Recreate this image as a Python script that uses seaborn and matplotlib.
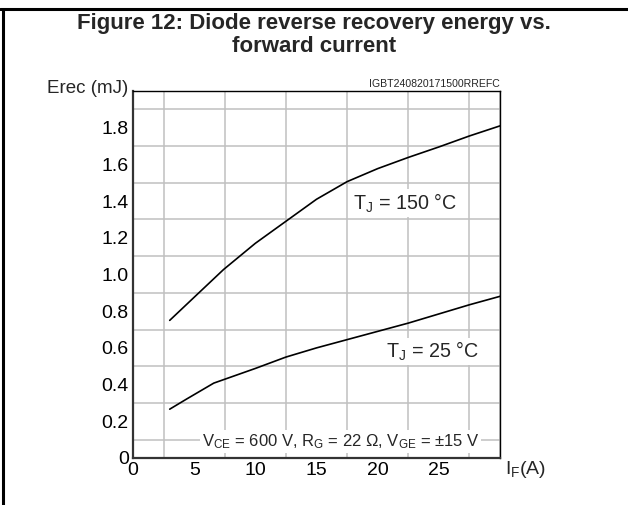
import matplotlib

matplotlib.use("Agg", force=True)
import matplotlib.pyplot as plt
import numpy as np
import pandas as pd
import seaborn as sns
from matplotlib.lines import Line2D

# forward current (A) and recovery energy (mJ)
I_F_150 = [3, 5, 7.4, 10, 12.5, 15, 17.5, 20, 22.5, 25, 27.5, 30]
E_150 = [0.75, 0.876, 1.027, 1.17, 1.29, 1.41, 1.506, 1.577, 1.638, 1.695, 1.755, 1.81]
I_F_25 = [3, 4.4, 6.6, 10, 12.5, 15, 17.5, 20, 22.5, 25, 27.5, 30]
E_25 = [0.266, 0.322, 0.408, 0.488, 0.55, 0.60, 0.645, 0.69, 0.735, 0.785, 0.835, 0.881]

X_TICKS = [0, 5, 10, 15, 20, 25]
Y_TICKS = [0, 0.2, 0.4, 0.6, 0.8, 1.0, 1.2, 1.4, 1.6, 1.8]
Y_TICK_LABELS = ["0", "0.2", "0.4", "0.6", "0.8", "1.0", "1.2", "1.4", "1.6", "1.8"]

TITLE_LINES = ["Figure 12: Diode reverse recovery energy vs.", "forward current"]
CODE = "IGBT240820171500RREFC"


def set_style() -> None:
    sns.set_theme(style="white")
    plt.rcParams["font.family"] = ["Liberation Sans", "DejaVu Sans"]
    plt.rcParams["mathtext.fontset"] = "custom"
    plt.rcParams["mathtext.rm"] = "Liberation Sans"
    plt.rcParams["mathtext.it"] = "Liberation Sans:italic"
    plt.rcParams["axes.unicode_minus"] = False


def main() -> None:
    set_style()
    data = pd.concat(
        [
            pd.DataFrame({"I_F": I_F_150, "Erec": E_150, "Tj": "150"}),
            pd.DataFrame({"I_F": I_F_25, "Erec": E_25, "Tj": "25"}),
        ],
        ignore_index=True,
    )

    fig = plt.figure(figsize=(6.28, 5.05), dpi=100)
    ax = fig.add_axes([0.2118, 0.0931, 0.5844, 0.7267])
    sns.lineplot(
        data=data, x="I_F", y="Erec", hue="Tj", palette=["black", "black"],
        linewidth=1.2, legend=False, ax=ax, zorder=3,
    )

    ax.set_xlim(0, 30)
    ax.set_ylim(0, 2.0)
    ax.set_xticks(np.arange(0, 30.01, 2.5), minor=True)
    ax.set_yticks(np.arange(0, 2.001, 0.1), minor=True)
    ax.grid(which="minor", color="#c0c0c0", linewidth=1.1)
    ax.set_axisbelow(True)
    ax.set_xticks(X_TICKS)
    ax.set_yticks(Y_TICKS)
    ax.set_yticklabels(Y_TICK_LABELS)
    ax.tick_params(which="both", length=0, labelsize=14, colors="black", pad=3)
    ax.set_xlabel("")
    ax.set_ylabel("")
    for side in ["top", "right"]:
        ax.spines[side].set_color("black")
        ax.spines[side].set_linewidth(1.0)
    for side in ["left", "bottom"]:
        ax.spines[side].set_color("#333333")
        ax.spines[side].set_linewidth(1.6)

    box = dict(facecolor="white", edgecolor="none", pad=1.5)
    ax.text(18.0, 1.39, r"T$_{\rm J}$ = 150 °C", fontsize=14.2, va="center", ha="left", bbox=box, zorder=4)
    ax.text(20.7, 0.58, r"T$_{\rm J}$ = 25 °C", fontsize=14.2, va="center", ha="left", bbox=box, zorder=4)
    ax.text(5.6, 0.09, r"V$_{\rm CE}$ = 600 V, R$_{\rm G}$ = 22 Ω, V$_{\rm GE}$ = ±15 V",
            fontsize=12, va="center", ha="left", bbox=box, zorder=4)

    fig.text(128 / 628, 1 - 89 / 505, "Erec (mJ)", fontsize=13.5, ha="right", va="center")
    fig.text(500 / 628, 1 - 84 / 505, CODE, fontsize=7.6, ha="right", va="center")
    fig.text(505 / 628, 1 - 470 / 505, r"I$_{\rm F}$(A)", fontsize=14, ha="left", va="center")
    fig.text(314 / 628, 1 - 24 / 505, TITLE_LINES[0], fontsize=16, weight="bold", ha="center", va="center")
    fig.text(314 / 628, 1 - 47 / 505, TITLE_LINES[1], fontsize=16, weight="bold", ha="center", va="center")

    # datasheet frame (left and top edges)
    fig.add_artist(Line2D([2.5 / 628, 2.5 / 628], [0, 1 - 9 / 505], transform=fig.transFigure,
                          color="black", linewidth=2.2))
    fig.add_artist(Line2D([0, 1], [1 - 9 / 505, 1 - 9 / 505], transform=fig.transFigure,
                          color="black", linewidth=2.2))

    fig.savefig("out.png", dpi=100)
    plt.close(fig)


if __name__ == "__main__":
    main()
